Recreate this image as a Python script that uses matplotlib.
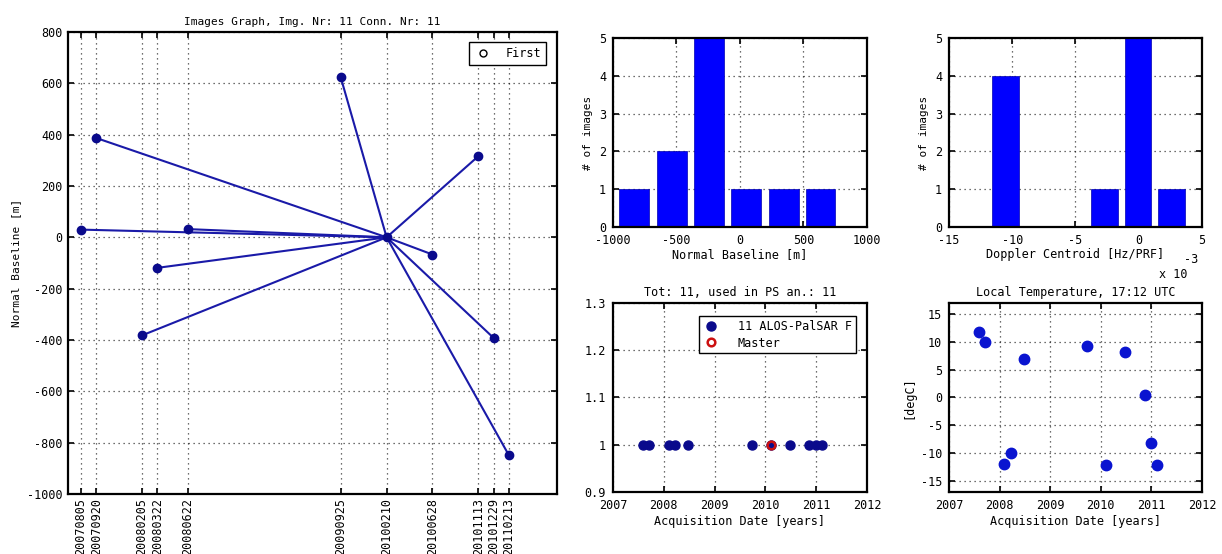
import datetime as dt
import matplotlib
matplotlib.use("Agg")
import matplotlib.pyplot as plt

plt.rcParams['font.family'] = ['DejaVu Sans Mono']
plt.rcParams['font.size'] = 8.5
plt.rcParams['axes.unicode_minus'] = False

# acquisitions (from the picture)
dates = ['20070805', '20070920', '20080205', '20080322', '20080622', '20090925',
         '20100210', '20100628', '20101113', '20101229', '20110213']
baselines = [30, 387, -382, -119, 32, 623, 0, -67, 316, -392, -849]
temperatures = [11.8, 10.0, -11.9, -10.0, 7.0, 9.2, -12.1, 8.1, 0.4, -8.2, -12.1]
master_date = '20100210'

# histograms
baseline_centers = [-833, -536, -245, 48, 344, 634]
baseline_counts = [1, 2, 5, 1, 1, 1]
doppler_centers = [-10.55, -7.92, -5.31, -2.69, -0.05, 2.61]   # x 1e-3 Hz/PRF
doppler_counts = [4, 0, 0, 1, 5, 1]

line_col = '#1a1aa8'
dot_col = '#0a0a8c'


def to_day(s):
    return dt.datetime.strptime(s, '%Y%m%d').toordinal()


def to_year(s):
    d = dt.datetime.strptime(s, '%Y%m%d')
    y0 = dt.datetime(d.year, 1, 1)
    y1 = dt.datetime(d.year + 1, 1, 1)
    return d.year + (d - y0).days / (y1 - y0).days


def matlab_style(ax):
    ax.tick_params(direction='in', top=True, right=True, length=4, width=1.2,
                   labelsize=8.5)
    ax.tick_params(axis='x', pad=5)
    ax.tick_params(axis='y', pad=5)
    for sp in ax.spines.values():
        sp.set_linewidth(1.6)
    ax.grid(True, linestyle=(0, (1, 3)), color='k', linewidth=0.9, alpha=0.75)
    ax.set_axisbelow(True)


days = [to_day(d) for d in dates]
years = [to_year(d) for d in dates]
m_day = to_day(master_date)
m_year = to_year(master_date)

fig = plt.figure(figsize=(12.22, 5.54), dpi=100)

# ---- images graph ----
ax = fig.add_axes([0.0556, 0.1083, 0.400, 0.834])
for d, b in zip(days, baselines):
    ax.plot([d, m_day], [b, 0], color=line_col, linewidth=1.5)
ax.plot(days, baselines, 'o', color=dot_col, markersize=6, linestyle='none')
ax.plot([], [], 'o', mfc='none', mec='k', markersize=5, linestyle='none', label='First')
ax.set_xlim(days[0] - 39, days[-1] + 144)
ax.set_ylim(-1000, 800)
ax.set_yticks(range(-1000, 801, 200))
ax.set_xticks(days)
ax.set_xticklabels(dates, rotation=90, fontsize=8)
ax.set_ylabel('Normal Baseline [m]', fontsize=8)
ax.set_title('Images Graph, Img. Nr: 11 Conn. Nr: 11', fontsize=8, pad=5)
matlab_style(ax)
ax.tick_params(axis='x', pad=3)
ax.tick_params(axis='y', pad=4)
leg = ax.legend(loc='upper right', bbox_to_anchor=(0.99, 0.99), fancybox=False,
                edgecolor='k', framealpha=1, fontsize=8.5, handlelength=1.5,
                handletextpad=1.2, borderpad=0.4)
leg.get_frame().set_linewidth(1.0)

# ---- normal baseline histogram ----
ax = fig.add_axes([0.5016, 0.5903, 0.2079, 0.3412])
ax.bar(baseline_centers, baseline_counts, width=235, color='#0000ff',
       edgecolor='#0000b0', linewidth=0.5)
ax.set_xlim(-1000, 1000)
ax.set_ylim(0, 5)
ax.set_xticks([-1000, -500, 0, 500, 1000])
ax.set_yticks(range(6))
ax.set_xlabel('Normal Baseline [m]', labelpad=1)
ax.set_ylabel('# of images', fontsize=8)
matlab_style(ax)

# ---- doppler histogram ----
ax = fig.add_axes([0.7766, 0.5903, 0.2070, 0.3412])
ax.bar(doppler_centers, doppler_counts, width=2.1, color='#0000ff',
       edgecolor='#0000b0', linewidth=0.5)
ax.set_xlim(-15, 5)
ax.set_ylim(0, 5)
ax.set_xticks([-15, -10, -5, 0, 5])
ax.set_yticks(range(6))
ax.set_xlabel('Doppler Centroid [Hz/PRF]', labelpad=1)
ax.set_ylabel('# of images', fontsize=8)
ax.text(0.83, -0.27, 'x 10', transform=ax.transAxes, fontsize=8.5)
ax.text(0.93, -0.19, '-3', transform=ax.transAxes, fontsize=8.5)
matlab_style(ax)

# ---- acquisitions ----
ax = fig.add_axes([0.5016, 0.1119, 0.2079, 0.3412])
ax.plot(years, [1] * len(years), 'o', color=dot_col, markersize=6.5,
        linestyle='none', label='11 ALOS-PalSAR F')
ax.plot([m_year], [1], 'o', mfc='none', mec='#cc1010', mew=1.8, markersize=5.5,
        linestyle='none', label='Master')
ax.set_xlim(2007, 2012)
ax.set_ylim(0.9, 1.3)
ax.set_xticks(range(2007, 2013))
ax.set_yticks([0.9, 1.0, 1.1, 1.2, 1.3])
ax.set_yticklabels(['0.9', '1', '1.1', '1.2', '1.3'])
ax.set_xlabel('Acquisition Date [years]', labelpad=2)
ax.set_title('Tot: 11, used in PS an.: 11', fontsize=8.5, pad=5)
matlab_style(ax)
leg = ax.legend(loc='upper right', bbox_to_anchor=(0.978, 0.96), fancybox=False,
                edgecolor='k', framealpha=1, fontsize=8.5, handlelength=1.5,
                handletextpad=1.5, borderpad=0.3, labelspacing=0.3)
leg.get_frame().set_linewidth(1.0)

# ---- temperature ----
ax = fig.add_axes([0.7766, 0.1119, 0.2070, 0.3412])
ax.plot(years, temperatures, 'o', color='#0a14d0', markersize=7.5, linestyle='none')
ax.set_xlim(2007, 2012)
ax.set_ylim(-17, 17)
ax.set_xticks(range(2007, 2013))
ax.set_yticks(range(-15, 16, 5))
ax.set_xlabel('Acquisition Date [years]', labelpad=2)
ax.set_ylabel('[degC]', fontsize=8.5)
ax.set_title('Local Temperature, 17:12 UTC', fontsize=8.5, pad=5)
matlab_style(ax)

fig.savefig('out.png', dpi=100)
